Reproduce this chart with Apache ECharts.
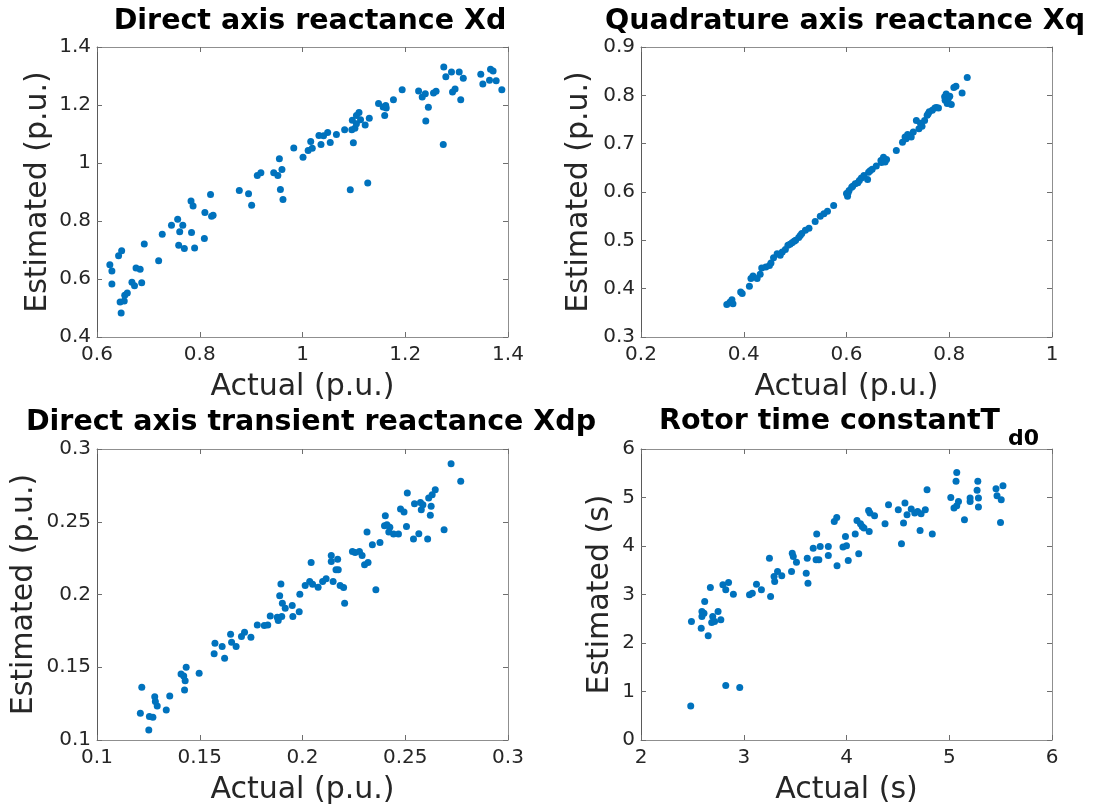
<!DOCTYPE html>
<html>
<head>
<meta charset="utf-8">
<script src="https://cdn.jsdelivr.net/npm/echarts@6/dist/echarts.min.js"></script>
<style>
  html, body { margin: 0; padding: 0; background: #ffffff; }
  #chart { width: 1102px; height: 812px; }
</style>
</head>
<body>
<div id="chart"></div>
<script>
// ---- data: [actual, estimated] ----
const xdPoints = [
  [0.629,0.628],[0.625,0.649],[0.629,0.583],[0.642,0.680],[0.648,0.697],[0.645,0.521],[0.647,0.483],
  [0.653,0.524],[0.659,0.552],[0.654,0.544],[0.668,0.589],[0.673,0.577],[0.676,0.638],[0.684,0.634],
  [0.687,0.587],[0.692,0.721],[0.720,0.663],[0.727,0.754],[0.745,0.785],[0.757,0.806],[0.761,0.763],
  [0.767,0.785],[0.759,0.716],[0.770,0.705],[0.783,0.869],[0.787,0.852],[0.784,0.760],[0.790,0.707],
  [0.809,0.740],[0.810,0.829],[0.821,0.891],[0.823,0.816],[0.826,0.820],[0.877,0.905],[0.895,0.894],
  [0.901,0.854],[0.912,0.957],[0.919,0.966],[0.944,0.966],[0.952,0.957],[0.955,1.015],[0.960,0.978],
  [0.957,0.909],[0.962,0.874],[0.983,1.052],[1.001,1.020],[1.011,1.043],[1.016,1.074],[1.019,1.051],
  [1.032,1.095],[1.036,1.064],[1.041,1.094],[1.049,1.105],[1.054,1.071],[1.066,1.098],[1.082,1.115],
  [1.093,0.908],[1.096,1.115],[1.097,1.147],[1.099,1.070],[1.102,1.120],[1.105,1.164],[1.110,1.174],
  [1.113,1.149],[1.122,1.131],[1.127,0.931],[1.130,1.154],[1.148,1.205],[1.157,1.193],[1.160,1.164],
  [1.163,1.190],[1.177,1.218],[1.194,1.253],[1.226,1.248],[1.233,1.228],[1.239,1.239],[1.240,1.145],
  [1.245,1.192],[1.255,1.241],[1.260,1.247],[1.274,1.064],[1.275,1.331],[1.279,1.297],[1.290,1.314],
  [1.292,1.245],[1.297,1.255],[1.305,1.314],[1.308,1.218],[1.313,1.292],[1.347,1.306],[1.351,1.272],
  [1.364,1.285],[1.366,1.323],[1.371,1.317],[1.377,1.284],[1.388,1.253],[1.105,1.135],[1.162,1.198]
];

const xqPoints = [
  [0.367,0.367],[0.373,0.372],[0.379,0.369],[0.377,0.377],[0.394,0.393],[0.397,0.390],[0.411,0.405],
  [0.414,0.421],[0.418,0.426],[0.426,0.421],[0.432,0.430],[0.435,0.443],[0.443,0.445],[0.450,0.448],
  [0.453,0.453],[0.458,0.464],[0.465,0.472],[0.471,0.469],[0.475,0.476],[0.481,0.481],[0.486,0.490],
  [0.490,0.492],[0.494,0.495],[0.498,0.498],[0.501,0.500],[0.507,0.506],[0.510,0.510],[0.513,0.514],
  [0.520,0.521],[0.527,0.525],[0.539,0.539],[0.549,0.550],[0.556,0.555],[0.563,0.560],[0.575,0.572],
  [0.600,0.597],[0.602,0.591],[0.603,0.598],[0.605,0.603],[0.610,0.610],[0.612,0.612],[0.617,0.617],
  [0.622,0.619],[0.625,0.624],[0.629,0.629],[0.634,0.634],[0.641,0.626],[0.643,0.641],[0.646,0.644],
  [0.650,0.647],[0.658,0.654],[0.667,0.665],[0.668,0.661],[0.672,0.672],[0.675,0.662],[0.678,0.667],
  [0.697,0.686],[0.709,0.703],[0.714,0.714],[0.716,0.710],[0.719,0.719],[0.726,0.714],[0.730,0.724],
  [0.736,0.748],[0.741,0.731],[0.744,0.742],[0.747,0.736],[0.752,0.748],[0.757,0.759],[0.759,0.762],
  [0.761,0.766],[0.767,0.769],[0.772,0.774],[0.775,0.775],[0.779,0.774],[0.791,0.797],[0.792,0.790],
  [0.794,0.803],[0.796,0.783],[0.798,0.793],[0.801,0.798],[0.804,0.781],[0.809,0.816],[0.813,0.819],
  [0.825,0.805],[0.835,0.837]
];

const xdpPoints = [
  [0.1211,0.1183],[0.1218,0.1362],[0.1252,0.1069],[0.1255,0.1161],[0.1272,0.1156],[0.1281,0.1298],
  [0.1284,0.1264],[0.1293,0.1234],[0.1337,0.1206],[0.1354,0.1303],[0.1409,0.1454],[0.1422,0.1440],
  [0.1429,0.1408],[0.1426,0.1344],[0.1434,0.1500],[0.1497,0.1459],[0.1570,0.1592],[0.1574,0.1665],
  [0.1609,0.1642],[0.1621,0.1562],[0.1650,0.1727],[0.1655,0.1672],[0.1677,0.1642],[0.1703,0.1711],
  [0.1718,0.1741],[0.1749,0.1706],[0.1780,0.1791],[0.1814,0.1787],[0.1831,0.1791],[0.1843,0.1853],
  [0.1877,0.1844],[0.1882,0.1821],[0.1889,0.1991],[0.1895,0.2073],[0.1899,0.1849],[0.1902,0.1940],
  [0.1916,0.1906],[0.1950,0.1924],[0.1953,0.1849],[0.1984,0.1881],[0.1987,0.2002],[0.2013,0.2062],
  [0.2035,0.2089],[0.2042,0.2220],[0.2049,0.2071],[0.2076,0.2050],[0.2098,0.2089],[0.2115,0.2108],
  [0.2140,0.2268],[0.2140,0.2227],[0.2149,0.2089],[0.2163,0.2170],[0.2171,0.2243],[0.2174,0.2170],
  [0.2183,0.2062],[0.2200,0.2048],[0.2205,0.1940],[0.2243,0.2296],[0.2256,0.2289],[0.2277,0.2296],
  [0.2290,0.2268],[0.2302,0.2204],[0.2319,0.2220],[0.2314,0.2429],[0.2340,0.2342],[0.2357,0.2032],
  [0.2377,0.2358],[0.2399,0.2472],[0.2403,0.2541],[0.2411,0.2479],[0.2425,0.2463],[0.2420,0.2429],
  [0.2443,0.2415],[0.2467,0.2415],[0.2477,0.2587],[0.2494,0.2567],[0.2506,0.2468],[0.2510,0.2697],
  [0.2540,0.2381],[0.2545,0.2624],[0.2566,0.2417],[0.2574,0.2633],[0.2578,0.2583],[0.2586,0.2617],
  [0.2609,0.2381],[0.2614,0.2663],[0.2622,0.2544],[0.2626,0.2606],[0.2631,0.2686],[0.2646,0.2720],
  [0.2689,0.2445],[0.2723,0.2899],[0.2770,0.2778]
];

const td0Points = [
  [2.484,0.702],[2.491,2.443],[2.586,2.305],[2.593,2.649],[2.593,2.546],[2.613,2.615],[2.620,2.856],
  [2.654,2.147],[2.675,3.145],[2.688,2.422],[2.698,2.546],[2.716,2.443],[2.750,2.649],[2.777,2.477],
  [2.797,3.200],[2.825,3.096],[2.825,1.122],[2.852,3.248],[2.899,3.007],[2.961,1.080],[3.056,2.993],
  [3.083,3.028],[3.124,3.213],[3.172,3.096],[3.250,3.750],[3.261,2.959],[3.295,3.372],[3.301,3.268],
  [3.329,3.475],[3.370,3.385],[3.465,3.475],[3.472,3.853],[3.482,3.784],[3.513,3.667],[3.608,3.440],
  [3.618,3.750],[3.625,3.234],[3.676,3.956],[3.704,3.716],[3.710,4.245],[3.731,3.716],[3.744,3.991],
  [3.823,3.991],[3.823,3.805],[3.881,4.507],[3.905,4.589],[3.908,3.592],[3.966,3.977],[3.990,4.197],
  [4.000,4.005],[4.017,3.702],[4.085,4.245],[4.102,4.528],[4.119,3.840],[4.136,4.459],[4.153,4.404],
  [4.170,4.369],[4.221,4.301],[4.215,4.734],[4.228,4.679],[4.273,4.624],[4.375,4.459],[4.409,4.851],
  [4.504,4.748],[4.535,4.046],[4.555,4.473],[4.569,4.885],[4.589,4.645],[4.630,4.762],[4.664,4.679],
  [4.692,4.713],[4.716,4.321],[4.726,4.665],[4.767,4.748],[4.784,5.161],[4.835,4.245],[5.015,5.002],
  [5.046,4.782],[5.066,5.333],[5.073,5.518],[5.073,4.830],[5.090,4.920],[5.148,4.541],[5.203,4.988],
  [5.203,4.920],[5.271,5.147],[5.278,5.333],[5.284,4.988],[5.284,4.803],[5.455,5.181],[5.465,5.037],
  [5.499,4.486],[5.506,4.954],[5.523,5.243]
];

// ---- axis ranges: [min, max, interval] ----
const xdAxisX = [0.6, 1.4, 0.2],  xdAxisY = [0.4, 1.4, 0.2];
const xqAxisX = [0.2, 1.0, 0.2],  xqAxisY = [0.3, 0.9, 0.1];
const xdpAxisX = [0.1, 0.3, 0.05], xdpAxisY = [0.1, 0.3, 0.05];
const td0AxisX = [2, 6, 1],       td0AxisY = [0, 6, 1];

const titles = [
  'Direct axis reactance Xd',
  'Quadrature axis reactance Xq',
  'Direct axis transient reactance Xdp',
  'Rotor time constantT'
];
const titleSub = 'd0';
const xNames = ['Actual (p.u.)', 'Actual (p.u.)', 'Actual (p.u.)', 'Actual (s)'];
const yNames = ['Estimated (p.u.)', 'Estimated (p.u.)', 'Estimated (p.u.)', 'Estimated (s)'];

// ---- layout ----
const FONT = 'DejaVu Sans';
const BLUE = '#0072BD';
const TEXT = '#262626';
const BOX = '#8f8f8f';

const panels = [
  { grid: { left: 97,  top: 47,  width: 411, height: 290 }, data: xdPoints,  ax: xdAxisX,  ay: xdAxisY,  yGap: 44 },
  { grid: { left: 641, top: 47,  width: 411, height: 290 }, data: xqPoints,  ax: xqAxisX,  ay: xqAxisY,  yGap: 47 },
  { grid: { left: 97,  top: 449, width: 411, height: 291 }, data: xdpPoints, ax: xdpAxisX, ay: xdpAxisY, yGap: 58 },
  { grid: { left: 641, top: 449, width: 411, height: 291 }, data: td0Points, ax: td0AxisX, ay: td0AxisY, yGap: 26 }
];

const grid = [], xAxis = [], yAxis = [], series = [];

panels.forEach(function (p, i) {
  grid.push(Object.assign({ containLabel: false, outerBoundsMode: 'none' }, p.grid));

  const tick = { show: true, inside: true, length: 5, lineStyle: { color: '#6e6e6e', width: 1 } };
  const label = { show: true, fontFamily: FONT, fontSize: 20, color: TEXT, showMinLabel: true, showMaxLabel: true };

  // bottom axis with labels and name
  xAxis.push({
    type: 'value', gridIndex: i, position: 'bottom',
    min: p.ax[0], max: p.ax[1], interval: p.ax[2],
    name: xNames[i], nameLocation: 'middle', nameGap: 35, nameMoveOverlap: false,
    nameTextStyle: { fontFamily: FONT, fontSize: 30, color: TEXT },
    axisLine: { show: true, onZero: false, lineStyle: { color: BOX, width: 1 } },
    axisTick: tick,
    axisLabel: Object.assign({ margin: 8 }, label),
    splitLine: { show: false }
  });
  // top edge of the box, ticks only
  xAxis.push({
    type: 'value', gridIndex: i, position: 'top',
    min: p.ax[0], max: p.ax[1], interval: p.ax[2],
    axisLine: { show: true, onZero: false, lineStyle: { color: BOX, width: 1 } },
    axisTick: tick, axisLabel: { show: false }, splitLine: { show: false }
  });
  // left axis with labels and name
  yAxis.push({
    type: 'value', gridIndex: i, position: 'left',
    min: p.ay[0], max: p.ay[1], interval: p.ay[2],
    name: yNames[i], nameLocation: 'middle', nameGap: p.yGap, nameMoveOverlap: false,
    nameTextStyle: { fontFamily: FONT, fontSize: 30, color: TEXT },
    axisLine: { show: true, onZero: false, lineStyle: { color: '#5a5a5a', width: 1 } },
    axisTick: tick,
    axisLabel: Object.assign({ margin: 6 }, label),
    splitLine: { show: false }
  });
  // right edge of the box, ticks only
  yAxis.push({
    type: 'value', gridIndex: i, position: 'right',
    min: p.ay[0], max: p.ay[1], interval: p.ay[2],
    axisLine: { show: true, onZero: false, lineStyle: { color: BOX, width: 1 } },
    axisTick: tick, axisLabel: { show: false }, splitLine: { show: false }
  });

  series.push({
    type: 'scatter', xAxisIndex: 2 * i, yAxisIndex: 2 * i,
    data: p.data, symbol: 'circle', symbolSize: 7,
    itemStyle: { color: BLUE, opacity: 1 },
    emphasis: { disabled: true }, animation: false
  });
});

// titles (bold) with the subscript on the last panel
const titleFont = 'bold 28.5px "DejaVu Sans"';
const graphic = [
  { type: 'text', x: 310, y: 22, style: { text: titles[0], font: titleFont, fill: '#000', align: 'center', verticalAlign: 'middle' } },
  { type: 'text', x: 845, y: 22, style: { text: titles[1], font: titleFont, fill: '#000', align: 'center', verticalAlign: 'middle' } },
  { type: 'text', x: 311, y: 423, style: { text: titles[2], font: titleFont, fill: '#000', align: 'center', verticalAlign: 'middle' } },
  { type: 'text', x: 659, y: 422, style: { text: titles[3], font: titleFont, fill: '#000', align: 'left', verticalAlign: 'middle' } },
  { type: 'text', x: 1008, y: 439, style: { text: titleSub, font: 'bold 22px "DejaVu Sans"', fill: '#000', align: 'left', verticalAlign: 'middle' } }
];

const chart = echarts.init(document.getElementById('chart'), null, { renderer: 'canvas' });
chart.setOption({
  backgroundColor: '#ffffff',
  animation: false,
  grid: grid,
  xAxis: xAxis,
  yAxis: yAxis,
  series: series,
  graphic: graphic
});
</script>
</body>
</html>
